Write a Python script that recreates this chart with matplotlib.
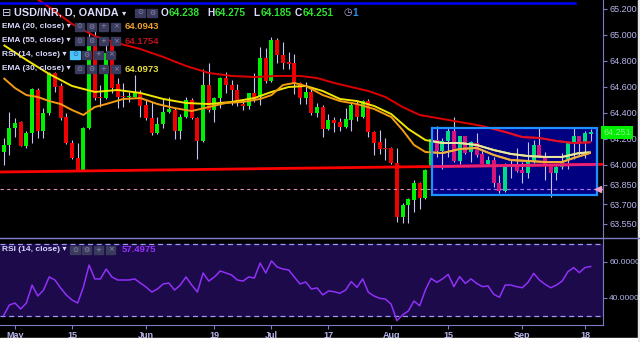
import numpy as np
import matplotlib
matplotlib.use('Agg')
import matplotlib.pyplot as plt
from matplotlib.patches import Rectangle

plt.rcParams['font.family'] = ['Liberation Sans', 'DejaVu Sans']

W, H = 640, 342

# --- data (bar index 0 = 27 Apr) -------------------------------------------
tick_idx = [2, 12, 25, 37, 47, 57, 68, 78, 91, 102]
tick_lab = ['May', '15', 'Jun', '19', 'Jul', '17', 'Aug', '15', 'Sep', '18']

opens = [64.100, 64.154, 64.285, 64.331, 64.146, 64.246, 64.577, 64.262, 64.400, 64.708,
         64.608, 64.369, 64.169, 64.054, 63.962, 64.285, 64.946, 64.523, 64.515, 64.946,
         64.623, 64.531, 64.523, 64.523, 64.554, 64.462, 64.362, 64.246, 64.315, 64.408,
         64.423, 64.262, 64.369, 64.500, 64.362, 64.185, 64.615, 64.423, 64.515, 64.669,
         64.615, 64.577, 64.469, 64.454, 64.554, 64.523, 64.823, 64.646, 64.962, 64.846,
         64.792, 64.785, 64.631, 64.515, 64.562, 64.400, 64.446, 64.277, 64.346, 64.331,
         64.292, 64.346, 64.462, 64.369, 64.492, 64.254, 64.177, 64.131, 64.131, 64.015,
         63.600, 63.692, 63.731, 63.862, 63.746, 63.977, 64.192, 64.108, 64.185, 64.262,
         64.031, 64.223, 64.100, 64.169, 64.085, 64.008, 64.038, 63.862, 63.800, 63.985,
         63.992, 63.962, 63.938, 64.023, 64.154, 64.069, 64.000, 63.938, 63.985, 64.046,
         64.169, 64.223, 64.169, 64.238]
highs = [64.208, 64.408, 64.362, 64.335, 64.262, 64.592, 64.592, 64.438, 64.715, 64.715,
         64.631, 64.400, 64.192, 64.169, 64.292, 65.092, 65.062, 64.615, 64.938, 64.950,
         64.669, 64.631, 64.562, 64.692, 64.577, 64.500, 64.485, 64.369, 64.508, 64.523,
         64.438, 64.392, 64.523, 64.515, 64.369, 64.738, 64.785, 64.523, 64.677, 64.715,
         64.654, 64.623, 64.500, 64.554, 64.708, 64.908, 64.900, 64.985, 64.977, 64.946,
         64.869, 64.854, 64.638, 64.638, 64.600, 64.477, 64.462, 64.392, 64.369, 64.362,
         64.438, 64.477, 64.492, 64.500, 64.508, 64.262, 64.269, 64.208, 64.140, 64.131,
         63.708, 63.746, 63.885, 63.866, 63.969, 64.205, 64.300, 64.208, 64.285, 64.369,
         64.223, 64.226, 64.185, 64.246, 64.123, 64.069, 64.062, 63.923, 64.015, 64.038,
         64.131, 64.023, 64.177, 64.192, 64.285, 64.100, 64.004, 64.000, 64.092, 64.177,
         64.285, 64.226, 64.262, 64.275]
lows = [64.000, 64.077, 64.215, 64.146, 64.131, 64.169, 64.208, 64.208, 64.385, 64.562,
        64.346, 64.162, 64.050, 63.958, 63.958, 64.277, 64.500, 64.446, 64.510, 64.554,
        64.438, 64.446, 64.485, 64.520, 64.369, 64.346, 64.231, 64.238, 64.285, 64.400,
        64.200, 64.200, 64.362, 64.354, 64.046, 64.177, 64.408, 64.331, 64.438, 64.554,
        64.462, 64.454, 64.423, 64.431, 64.485, 64.462, 64.631, 64.638, 64.785, 64.738,
        64.738, 64.546, 64.469, 64.469, 64.385, 64.369, 64.215, 64.269, 64.254, 64.262,
        64.285, 64.262, 64.338, 64.362, 64.215, 64.077, 64.085, 64.038, 64.010, 63.562,
        63.554, 63.554, 63.638, 63.662, 63.738, 63.962, 64.062, 63.969, 64.062, 64.023,
        64.008, 64.085, 64.023, 64.062, 64.004, 63.992, 63.831, 63.785, 63.792, 63.900,
        63.946, 63.862, 63.900, 64.015, 64.062, 63.885, 63.754, 63.885, 63.969, 63.969,
        64.046, 64.077, 64.054, 64.185]
closes = [64.154, 64.285, 64.323, 64.150, 64.246, 64.585, 64.262, 64.400, 64.708, 64.600,
          64.362, 64.169, 64.054, 63.962, 64.285, 64.946, 64.515, 64.515, 64.862, 64.592,
          64.523, 64.523, 64.531, 64.554, 64.454, 64.362, 64.246, 64.315, 64.408, 64.431,
          64.262, 64.369, 64.500, 64.362, 64.185, 64.615, 64.423, 64.515, 64.669, 64.615,
          64.577, 64.485, 64.454, 64.554, 64.508, 64.823, 64.646, 64.962, 64.846, 64.785,
          64.777, 64.631, 64.515, 64.562, 64.400, 64.446, 64.277, 64.346, 64.323, 64.292,
          64.354, 64.462, 64.369, 64.492, 64.254, 64.169, 64.123, 64.123, 64.015, 63.600,
          63.692, 63.738, 63.862, 63.746, 63.962, 64.200, 64.108, 64.185, 64.262, 64.031,
          64.223, 64.092, 64.177, 64.077, 64.008, 64.038, 63.862, 63.800, 63.985, 63.992,
          63.954, 63.938, 64.023, 64.154, 64.069, 64.000, 63.938, 63.985, 64.023, 64.169,
          64.223, 64.169, 64.246, 64.251]

# moving averages at sample bars
ema55_x = [0, 4, 8, 12, 16, 20, 24, 28, 32, 36, 40, 44, 48, 52, 55, 58, 61, 64, 67, 70,
           73, 76, 80, 84, 88, 91, 94, 97, 100, 103]
ema55_y = [65.42, 65.33, 65.215, 65.085, 64.992, 64.938, 64.892, 64.831, 64.762, 64.708,
           64.685, 64.677, 64.685, 64.685, 64.669, 64.631, 64.600, 64.569, 64.523, 64.446,
           64.385, 64.362, 64.331, 64.300, 64.254, 64.215, 64.208, 64.185, 64.169, 64.175]
ema30_x = [0, 4, 8, 12, 16, 20, 24, 28, 32, 36, 40, 44, 47, 50, 53, 56, 59, 62, 65, 68,
           71, 74, 77, 80, 83, 86, 89, 92, 95, 98, 101, 103]
ema30_y = [64.923, 64.808, 64.700, 64.608, 64.562, 64.577, 64.554, 64.508, 64.477, 64.469,
           64.485, 64.515, 64.562, 64.600, 64.608, 64.569, 64.508, 64.492, 64.454, 64.392,
           64.277, 64.192, 64.169, 64.169, 64.154, 64.115, 64.085, 64.069, 64.062, 64.062,
           64.092, 64.097]
ema20_x = [0, 2, 4, 6, 8, 10, 12, 14, 16, 18, 21, 24, 27, 30, 33, 36, 39, 42, 45, 47,
           49, 51, 53, 56, 59, 62, 65, 68, 70, 72, 74, 77, 80, 83, 86, 89, 92, 95, 98, 100, 103]
ema20_y = [64.669, 64.592, 64.538, 64.523, 64.492, 64.469, 64.423, 64.385, 64.446, 64.469,
           64.508, 64.515, 64.469, 64.438, 64.415, 64.446, 64.477, 64.485, 64.508, 64.538,
           64.615, 64.631, 64.608, 64.538, 64.492, 64.469, 64.431, 64.369, 64.269, 64.154,
           64.100, 64.092, 64.123, 64.131, 64.077, 64.038, 64.031, 64.023, 64.023, 64.054, 64.094]

rsi = [30.2, 36.1, 37.2, 33.9, 37.2, 47.2, 41.1, 44.4, 51.7, 50.0,
       45.6, 41.7, 38.9, 37.2, 46.1, 58.3, 50.6, 50.6, 56.1, 51.7,
       50.0, 50.0, 50.0, 50.6, 48.3, 46.1, 43.3, 45.0, 47.8, 48.3,
       44.4, 47.2, 51.7, 47.2, 43.3, 53.9, 49.4, 51.7, 55.0, 53.9,
       52.8, 50.0, 49.4, 51.7, 51.1, 59.4, 53.9, 60.6, 57.2, 56.1,
       55.6, 51.7, 47.8, 48.9, 45.0, 45.6, 41.7, 43.9, 43.5, 42.6,
       44.4, 49.1, 45.9, 50.6, 43.1, 41.1, 39.8, 39.4, 36.5, 27.4,
       30.6, 32.8, 38.3, 35.7, 44.4, 50.9, 48.7, 50.6, 53.1, 46.3,
       51.9, 48.1, 50.6, 48.1, 46.3, 46.7, 42.0, 40.4, 47.2, 47.2,
       46.3, 45.7, 48.7, 53.7, 50.0, 47.6, 45.7, 47.2, 49.4, 54.6,
       56.9, 54.1, 56.9, 57.5]

trend_x = [-0.63, 105.16]
trend_y = [63.946, 64.005]
level = 63.813
box_x = [75.2, 104.1]
box_y = [63.770, 64.285]
price_ticks = [63.55, 63.70, 63.85, 64.0, 64.2, 64.4, 64.6, 64.8, 65.0, 65.2]
last_price = 64.251

LAV = '#b4b4ec'
AXC = '#7c7cc4'


def fx(x):
    return x / W


def fy(y):
    return 1 - y / H


fig = plt.figure(figsize=(6.4, 3.42), dpi=100, facecolor='black')
ax = fig.add_axes([0, fy(237), fx(603), 237 / H])
ax.set_facecolor('black')
ax.set_xlim(-0.63, 105.16)
ax.set_ylim(64 - 72 / 130, 64 + 165 / 130)

# box drawn behind candles
box = Rectangle((box_x[0], box_y[0]), box_x[1] - box_x[0], box_y[1] - box_y[0],
                facecolor='#000080', edgecolor='none', zorder=1)
ax.add_patch(box)

idx = np.arange(len(opens))
o = np.array(opens); c = np.array(closes)
hi = np.array(highs); lo = np.array(lows)
up = c >= o
inbox = idx >= 76
body_col = np.where(up, np.where(inbox, '#00dc82', '#00f000'),
                    np.where(inbox, '#d8147c', '#f00000'))
ax.vlines(idx, lo, hi, color='#c4c4f4', lw=0.8, zorder=2)
bottom = np.minimum(o, c)
height = np.maximum(np.abs(c - o), 0.008)
ax.bar(idx, height, bottom=bottom, width=0.7, color=body_col, zorder=3)


def line_pair(x, y, col, col_in, lw, **kw):
    ax.plot(x, y, color=col, lw=lw, zorder=4, solid_capstyle='butt', **kw)
    l2, = ax.plot(x, y, color=col_in, lw=lw, zorder=4.5, solid_capstyle='butt', **kw)
    l2.set_clip_path(box)


line_pair(trend_x, trend_y, '#ff0000', '#e8207a', 2.0)
line_pair([-0.63, 105.16], [level, level], '#e090b8', '#a070f0', 0.8, ls=(0, (3, 3)))
line_pair(ema55_x, ema55_y, '#dd0000', '#e0102a', 1.4)
line_pair(ema30_x, ema30_y, '#f2e600', '#e8e6a8', 1.4)
line_pair(ema20_x, ema20_y, '#f39c12', '#eab040', 1.4)

ax.add_patch(Rectangle((box_x[0], box_y[0]), box_x[1] - box_x[0], box_y[1] - box_y[0],
                       facecolor='none', edgecolor='#1e90ff', lw=1.6, zorder=6))
ax.plot([104.3], [level], marker='<', ms=5, color='#f4a0c4', zorder=7, clip_on=False)

ax.yaxis.tick_right()
ax.set_yticks(price_ticks)
ax.set_yticklabels([f'{v:.3f}' for v in price_ticks])
ax.tick_params(axis='y', colors=AXC, labelcolor=LAV, length=3, width=0.8,
               labelsize=6.5, pad=2)
ax.set_xticks([])
for s in ['top', 'left', 'bottom']:
    ax.spines[s].set_visible(False)
ax.spines['right'].set_color(AXC)

# last price label
ax.text(1.0, last_price, f'{last_price:.3f}', transform=ax.get_yaxis_transform(),
        ha='left', va='center', fontsize=6.5, color='#8cf08c', zorder=10,
        bbox=dict(boxstyle='square,pad=0.25', fc='#00ee00', ec='none'), clip_on=False)

# --- RSI panel ---------------------------------------------------------------
ar = fig.add_axes([0, fy(325), fx(603), 87 / H])
ar.set_facecolor('black')
ar.set_xlim(-0.63, 105.16)
ar.set_ylim(25, 73.33)
ar.axhspan(30, 70, color='#1c0a4a', zorder=0)
ar.axhline(70, color='#9a9af0', lw=0.9, ls=(0, (4, 3)), zorder=1)
ar.axhline(30, color='#9a9af0', lw=0.9, ls=(0, (4, 3)), zorder=1)
ar.plot(idx, rsi, color='#9030f8', lw=1.1, zorder=2)
ar.yaxis.tick_right()
ar.set_yticks([40, 60])
ar.set_yticklabels(['40.0000', '60.0000'])
ar.tick_params(axis='y', colors=AXC, labelcolor=LAV, length=3, width=0.8,
               labelsize=6, pad=1.5)
ar.set_xticks(tick_idx)
ar.set_xticklabels(tick_lab, fontweight='bold')
ar.tick_params(axis='x', colors=AXC, labelcolor=LAV, length=3, width=0.8,
               labelsize=6.5, pad=1.5)
ar.spines['left'].set_visible(False)
for s in ['right', 'bottom', 'top']:
    ar.spines[s].set_color(AXC)

# separators / frame bits
fig.add_artist(plt.Line2D([0, 1], [fy(238), fy(238)], color=AXC, lw=1.0))
fig.add_artist(plt.Line2D([0, fx(575)], [fy(3), fy(3)], color='#0000ff', lw=1.8))
fig.add_artist(Rectangle((0, 0), 1, 4 / H, transform=fig.transFigure, color='white'))
fig.add_artist(Rectangle((fx(638), 0), 2 / W, 1, transform=fig.transFigure, color='#e8e8e8'))


# --- legend texts ---------------------------------------------------------------
def btn(x, y, w, sym, fc='#3a3a5c', tc='#8a8ab0'):
    fig.add_artist(Rectangle((fx(x), fy(y + 4)), w / W, 8 / H,
                             transform=fig.transFigure, color=fc))
    fig.text(fx(x + w / 2), fy(y), sym, ha='center', va='center',
             fontsize=5, color=tc, family=['DejaVu Sans'])


fig.text(fx(2), fy(12.5), '⊟', fontsize=8, color='#d8d8ff', va='center',
         family=['DejaVu Sans'])
fig.text(fx(14), fy(12.5), 'USD/INR, D, OANDA', fontsize=7.8, fontweight='bold',
         color='#dcdcff', va='center')
fig.text(fx(122), fy(12.5), '▾', fontsize=6, color='#dcdcff', va='center',
         family=['DejaVu Sans'])
btn(135, 12.5, 10, '⊙')
btn(147, 12.5, 10, '⚙')
ohlc = [('O', '64.238', 161), ('H', '64.275', 207), ('L', '64.185', 253), ('C', '64.251', 295)]
for k, v, x in ohlc:
    fig.text(fx(x), fy(12.5), k, fontsize=7.3, fontweight='bold', color='#dcdcff', va='center')
    fig.text(fx(x + 8), fy(12.5), v, fontsize=7.3, fontweight='bold', color='#2ee02e',
             va='center')
fig.text(fx(343), fy(12.5), '◷', fontsize=7, color='#b0b0e0', va='center',
         family=['DejaVu Sans'])
fig.text(fx(352), fy(12.5), '1', fontsize=7.3, fontweight='bold', color='#2a8cf0',
         va='center')

rows = [('EMA (20, close)', 26.5, '64.0943', '#eea030'),
        ('EMA (55, close)', 41, '64.1754', '#b8141e'),
        ('RSI (14, close)', 54.5, None, None),
        ('EMA (30, close)', 69, '64.0973', '#e8e040')]
for lab, y, val, vc in rows:
    fig.text(fx(2), fy(y), lab + ' ▾', fontsize=6, fontweight='bold',
             color='#d8d8ff', va='center', family=['Liberation Sans', 'DejaVu Sans'])
    if val is None:
        btn(70, y, 10, '⊙', fc='#4fc3f7', tc='#1060a0')
        btn(82, y, 9, '⚙')
        btn(94, y, 9, '+')
        btn(106, y, 9, '×')
    else:
        btn(75, y, 9, '⊙')
        btn(87, y, 9, '⚙')
        btn(99, y, 9, '+')
        btn(111, y, 9, '×')
        fig.text(fx(125), fy(y), val, fontsize=6.8, fontweight='bold', color=vc, va='center')

fig.text(fx(2), fy(249.5), 'RSI (14, close) ▾', fontsize=6, fontweight='bold',
         color='#d8d8ff', va='center', family=['Liberation Sans', 'DejaVu Sans'])
btn(70, 249.5, 10, '⊙')
btn(82, 249.5, 9, '⚙')
btn(94, 249.5, 9, '+')
btn(106, 249.5, 9, '×')
fig.text(fx(122), fy(249.5), '57.4975', fontsize=6.8, fontweight='bold',
         color='#9a30ff', va='center')

fig.savefig('out.png', dpi=100, facecolor='black')
